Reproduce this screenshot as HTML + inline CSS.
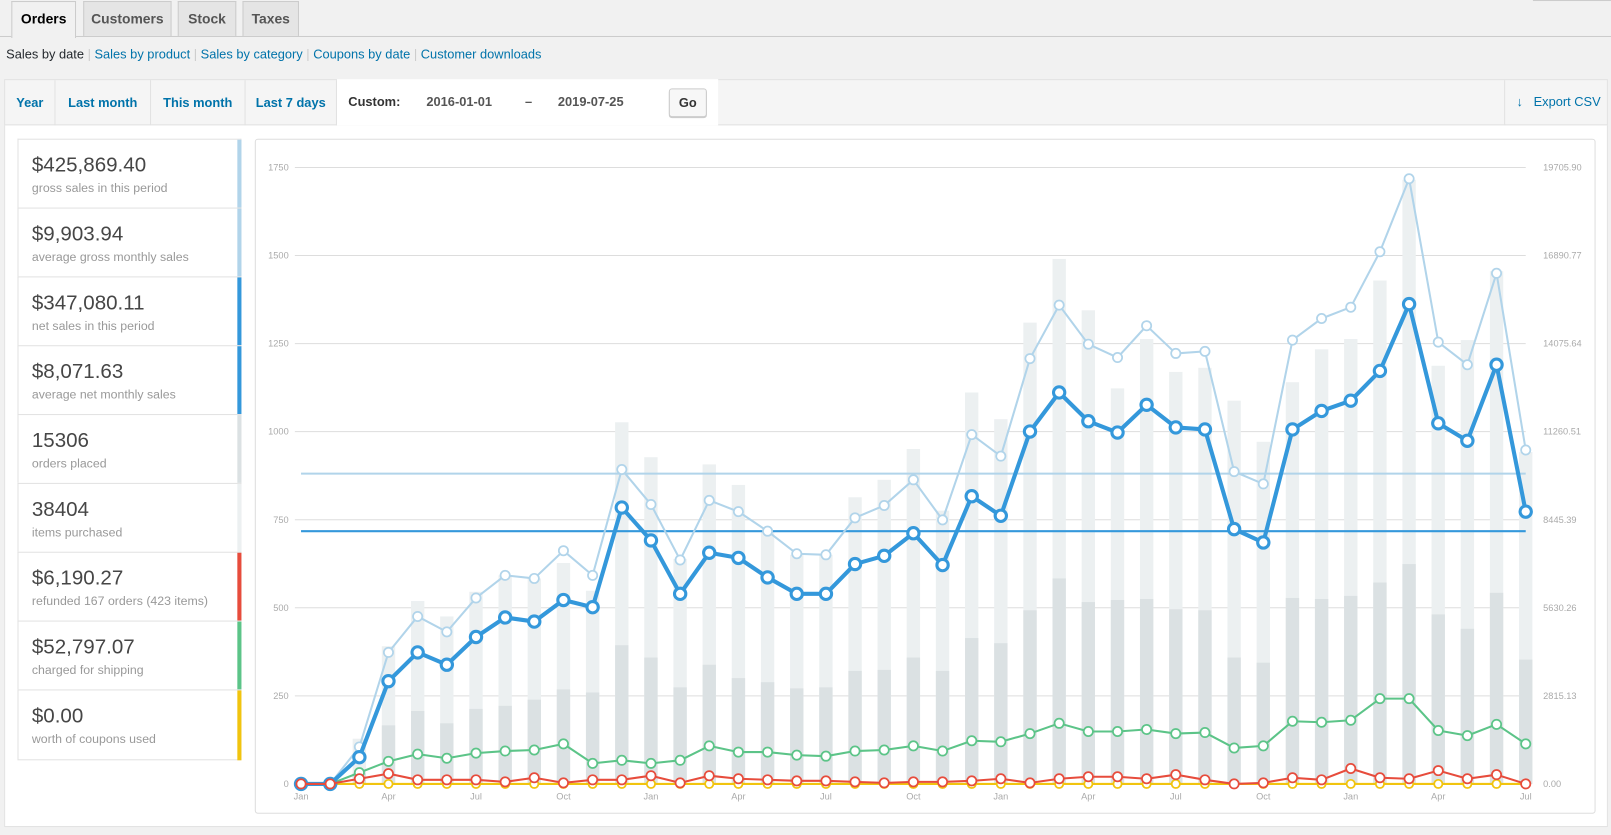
<!DOCTYPE html>
<html><head><meta charset="utf-8"><style>
html,body{margin:0;padding:0;background:#f1f1f1;width:1611px;height:835px;overflow:hidden;font-family:"Liberation Sans",sans-serif}
#w{position:absolute;left:0;top:0;width:1568px;height:813px;transform:scale(1.02742);transform-origin:0 0}
.a{position:absolute}
.tab{position:absolute;top:1px;height:34px;border:1px solid #ccc;border-bottom:none;background:#e5e5e5;color:#555;font-size:13.5px;font-weight:600;line-height:34px;text-align:center;box-sizing:border-box}
.sub{position:absolute;top:46px;left:6px;font-size:12.5px;color:#0073aa}
.sub b{color:#23282d;font-weight:normal}
.sub i{font-style:normal;color:#ccc}
.nav{position:absolute;top:77px;left:4px;width:1561px;height:45px;background:#f5f5f5;border:1px solid #e2e2e2;box-sizing:border-box}
.nl{position:absolute;top:0;height:44px;line-height:44px;font-size:12.5px;font-weight:bold;color:#0073aa;border-right:1px solid #e2e2e2;text-align:center;box-sizing:border-box}
.box{position:absolute;left:17px;width:218px;height:67px;border:1px solid #e2e2e2;border-bottom:none;box-sizing:border-box;background:#fff}
.box .v{position:absolute;left:13px;top:14px;font-size:20px;color:#464646}
.box .l{position:absolute;left:13px;top:40px;font-size:12px;color:#999}
.box .c{position:absolute;right:-1px;top:0;width:4px;height:67px}
</style></head><body><div id="w">
<div class="a" style="left:0;top:35px;width:1568px;height:1px;background:#ccc"></div>
<div class="a" style="left:1492px;top:0;width:76px;height:1px;background:#ccc"></div>
<div class="tab" style="left:11px;width:63px;background:#f1f1f1;color:#000;height:36px">Orders</div>
<div class="tab" style="left:81px;width:86px">Customers</div>
<div class="tab" style="left:173px;width:57px">Stock</div>
<div class="tab" style="left:236px;width:55px">Taxes</div>
<div class="sub"><b>Sales by date</b> <i>|</i> Sales by product <i>|</i> Sales by category <i>|</i> Coupons by date <i>|</i> Customer downloads</div>
<div class="a" style="left:4px;top:121px;width:1561px;height:684px;background:#fff;border:1px solid #e2e2e2;box-sizing:border-box"></div>
<div class="nav">
<div class="nl" style="left:0;width:49px">Year</div>
<div class="nl" style="left:49px;width:93px">Last month</div>
<div class="nl" style="left:142px;width:92px">This month</div>
<div class="nl" style="left:234px;width:89px">Last 7 days</div>
<div class="a" style="left:323px;top:-1px;width:371px;height:45px;background:#fff"></div>
<div class="a" style="left:334px;top:14px;font-size:12.5px;font-weight:bold;color:#333">Custom:</div>
<div class="a" style="left:410px;top:14px;font-size:12.5px;font-weight:bold;color:#555">2016-01-01</div>
<div class="a" style="left:506px;top:14px;font-size:12.5px;font-weight:bold;color:#555">–</div>
<div class="a" style="left:538px;top:14px;font-size:12.5px;font-weight:bold;color:#555">2019-07-25</div>
<div class="a" style="left:646px;top:8px;width:37px;height:28px;border:1px solid #ccc;border-radius:3px;background:#f7f7f7;box-sizing:border-box;font-size:12.5px;font-weight:bold;line-height:26px;text-align:center;color:#333;box-shadow:0 1px 0 #ccc">Go</div>
<div class="a" style="left:1459px;top:0;height:44px;border-left:1px solid #e2e2e2"></div>
<div class="a" style="left:1471px;top:14px;font-size:12.5px;color:#0073aa">↓&nbsp;&nbsp;&nbsp;Export CSV</div>
</div>
<div class="box" style="top:135px"><div class="v">$425,869.40</div><div class="l">gross sales in this period</div><div class="c" style="background:#b1d4ea"></div></div>
<div class="box" style="top:202px"><div class="v">$9,903.94</div><div class="l">average gross monthly sales</div><div class="c" style="background:#b1d4ea"></div></div>
<div class="box" style="top:269px"><div class="v">$347,080.11</div><div class="l">net sales in this period</div><div class="c" style="background:#3498db"></div></div>
<div class="box" style="top:336px"><div class="v">$8,071.63</div><div class="l">average net monthly sales</div><div class="c" style="background:#3498db"></div></div>
<div class="box" style="top:403px"><div class="v">15306</div><div class="l">orders placed</div><div class="c" style="background:#dbe1e3"></div></div>
<div class="box" style="top:470px"><div class="v">38404</div><div class="l">items purchased</div><div class="c" style="background:#ecf0f1"></div></div>
<div class="box" style="top:537px"><div class="v">$6,190.27</div><div class="l">refunded 167 orders (423 items)</div><div class="c" style="background:#e74c3c"></div></div>
<div class="box" style="top:604px"><div class="v">$52,797.07</div><div class="l">charged for shipping</div><div class="c" style="background:#5cc488"></div></div>
<div class="box" style="top:671px;border-bottom:1px solid #e2e2e2;height:69px"><div class="v">$0.00</div><div class="l">worth of coupons used</div><div class="c" style="background:#f1c40f;height:68px"></div></div>
<div class="a" style="left:248px;top:135px;width:1305px;height:657px;border:1px solid #ddd;border-radius:3px;box-sizing:border-box"></div>
<svg id="s" class="a" style="left:0;top:0" width="1568" height="813" viewBox="0 0 1568 813"></svg>
</div>
<script>
var G=[763,763,727,635,600,615,582,560,563,536,560,457,491,545,487,498,517,539,540,504,492,467,506,423,444,349,297,335,348,317,344,342,459,471,331,310,299,245,174,333,355,266,438];
var N=[763,763,737,663,635,647,620,601,605,584,591,494,526,578,538,543,562,578,578,549,541,519,550,483,502,420,382,410,421,394,416,418,515,528,418,400,390,361,296,412,429,355,498];
var S=[763,763,752,741,734,738,733,731,730,724,743,740,743,740,726,732,732,735,736,731,730,726,731,721,722,714,704,712,712,710,714,713,728,726,702,703,701,680,680,711,716,705,724];
var R=[763,763,758,753,759,759,759,761,757,762,759,759,755,762,755,758,759,760,760,761,762,761,761,760,758,762,758,756,756,758,754,759,763,762,757,759,748,757,758,750,758,754,763];
var L=[763,763,719,629,585,600,576,560,563,548,575,411,445,544,452,472,518,540,540,484,467,437,497,382,408,314,252,302,378,330,362,358,390,430,372,340,330,273,175,356,331,264,440];
var D=[763,763,752,706,692,704,690,687,681,671,674,628,640,669,647,660,664,670,669,653,652,640,653,621,626,594,563,586,584,583,593,594,640,645,582,583,580,567,549,598,612,577,642];
var x0=293,dx=(1485-293)/42,h='';
function X(i){return x0+i*dx}
var ly=['0','250','500','750','1000','1250','1500','1750'],ry=['0.00','2815.13','5630.26','8445.39','11260.51','14075.64','16890.77','19705.90'];
for(var k=0;k<8;k++){var y=763-k*600/7;h+='<line x1="287" x2="1485" y1="'+y+'" y2="'+y+'" stroke="#ddd" stroke-width="1"/>';
h+='<text x="281" y="'+(y+3)+'" text-anchor="end" font-size="9" fill="#aaa">'+ly[k]+'</text>';
h+='<text x="1502" y="'+(y+3)+'" font-size="9" fill="#aaa">'+ry[k]+'</text>';}
for(var i=0;i<43;i++){h+='<rect x="'+(X(i)-6.5)+'" y="'+L[i]+'" width="13" height="'+(763-L[i])+'" fill="#ecf0f1"/>';
h+='<rect x="'+(X(i)-6.5)+'" y="'+D[i]+'" width="13" height="'+(763-D[i])+'" fill="#dbe1e3"/>';}
var m=['Jan','Apr','Jul','Oct'];
for(var i=0;i<43;i+=3){h+='<text x="'+X(i)+'" y="778" text-anchor="middle" font-size="9" fill="#aaa">'+m[(i/3)%4]+'</text>';}
h+='<line x1="293" x2="1485" y1="461" y2="461" stroke="#b1d4ea" stroke-width="2"/>';
h+='<line x1="293" x2="1485" y1="517" y2="517" stroke="#3498db" stroke-width="2"/>';
function ser(a,c,w,r,sw){var p='';for(var i=0;i<43;i++)p+=(i?'L':'M')+X(i).toFixed(1)+' '+a[i];
h+='<path d="'+p+'" fill="none" stroke="'+c+'" stroke-width="'+w+'" stroke-linejoin="round"/>';
for(var i=0;i<43;i++)h+='<circle cx="'+X(i).toFixed(1)+'" cy="'+a[i]+'" r="'+r+'" fill="#fff" stroke="'+c+'" stroke-width="'+sw+'"/>';}
var Y=[];for(var i=0;i<43;i++)Y.push(763);
ser(Y,'#f1c40f',2,4,1.7);
ser(S,'#5cc488',2,4.5,1.7);
ser(G,'#b1d4ea',2,4.5,1.7);
ser(N,'#3498db',4,5.5,3);
ser(R,'#e74c3c',2,4.5,1.7);
document.getElementById('s').innerHTML=h;
</script>
</body></html>
